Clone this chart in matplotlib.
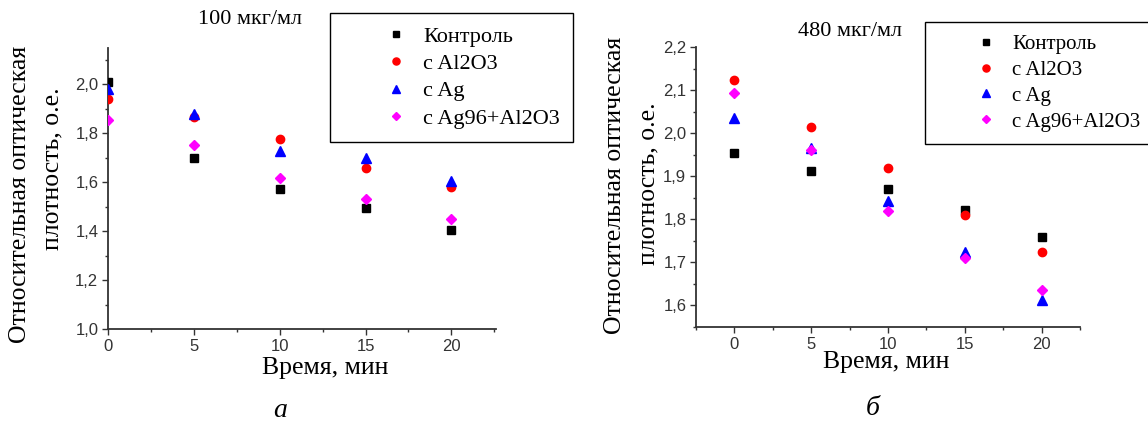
import matplotlib.pyplot as plt
from matplotlib.ticker import MultipleLocator, FuncFormatter

# time, min
time_min = [0, 5, 10, 15, 20]
series_names = ["Контроль", "с Al2O3", "с Ag", "с Ag96+Al2O3"]

# 100 мкг/мл
control_100 = [2.01, 1.70, 1.57, 1.495, 1.405]
al2o3_100 = [1.94, 1.865, 1.775, 1.658, 1.578]
ag_100 = [1.978, 1.877, 1.727, 1.70, 1.604]
ag96_100 = [1.853, 1.751, 1.616, 1.530, 1.449]

# 480 мкг/мл
control_480 = [1.953, 1.911, 1.870, 1.820, 1.758]
al2o3_480 = [2.124, 2.013, 1.919, 1.810, 1.724]
ag_480 = [2.036, 1.965, 1.841, 1.723, 1.611]
ag96_480 = [2.093, 1.961, 1.818, 1.709, 1.634]

markers = ["s", "o", "^", "D"]
colors = ["black", "red", "blue", "magenta"]
sizes = [5.5, 6, 6.5, 5.2]

serif = "Liberation Serif"
sans = "Liberation Sans"
comma = FuncFormatter(lambda v, p: f"{v:.1f}".replace(".", ","))

W, H = 1148, 423
fig = plt.figure(figsize=(W / 100, H / 100), dpi=100)


def box(x0, y0, x1, y1):
    return [x0 / W, 1 - y1 / H, (x1 - x0) / W, (y1 - y0) / H]


def ftext(x, y, s, **kw):
    fig.text(x / W, 1 - y / H, s, fontfamily=serif, ha="center", va="center", **kw)


def panel(rect, data, xlim, ylim, ymaj, ymin, clip):
    ax = fig.add_axes(box(*rect))
    for vals, name, m, c, s in zip(data, series_names, markers, colors, sizes):
        ax.plot(time_min, vals, linestyle="none", marker=m, color=c, ms=s,
                label=name, clip_on=clip, zorder=3)
    ax.set_xlim(*xlim)
    ax.set_ylim(*ylim)
    ax.xaxis.set_major_locator(MultipleLocator(5))
    ax.xaxis.set_minor_locator(MultipleLocator(2.5))
    ax.yaxis.set_major_locator(MultipleLocator(ymaj))
    ax.yaxis.set_minor_locator(MultipleLocator(ymin))
    ax.yaxis.set_major_formatter(comma)
    for side in ("top", "right"):
        ax.spines[side].set_visible(False)
    for side in ("left", "bottom"):
        ax.spines[side].set_linewidth(1.3)
        ax.spines[side].set_color("#333333")
    ax.tick_params(which="major", length=4, width=1, direction="out", labelsize=12,
                   colors="#333333", pad=3)
    ax.tick_params(which="minor", length=2.5, width=1, direction="out", colors="#333333")
    for lab in ax.get_xticklabels() + ax.get_yticklabels():
        lab.set_fontfamily(sans)
    return ax


def legend(ax, x, y, size):
    leg = fig.legend(*ax.get_legend_handles_labels(), loc="upper left",
                     bbox_to_anchor=(x / W, 1 - y / H), borderaxespad=0,
                     prop={"family": serif, "size": size}, fancybox=False,
                     edgecolor="black", framealpha=1, borderpad=0.6,
                     labelspacing=0.3, handletextpad=-1.1, handlelength=4.7,
                     markerscale=0.85)
    leg.get_frame().set_linewidth(1.0)


ax1 = panel((108, 48, 496, 329), [control_100, al2o3_100, ag_100, ag96_100],
            (0, 22.6), (1.0, 2.147), 0.2, 0.1, True)
legend(ax1, 330, 13, 16)
ftext(250, 20, "100 мкг/мл", fontsize=16)
ftext(20, 194, "Относительная оптическая", fontsize=18.5, rotation=90)
ftext(52, 169, "плотность, о.е.", fontsize=18.5, rotation=90)
ftext(325, 368, "Время, мин", fontsize=18.5)
ftext(280, 410, "а", fontsize=20, style="italic")

ax2 = panel((696, 47, 1080, 327), [control_480, al2o3_480, ag_480, ag96_480],
            (-2.5, 22.5), (1.549, 2.2), 0.1, 0.05, False)
legend(ax2, 925, 22, 15)
ftext(850, 32, "480 мкг/мл", fontsize=16)
ftext(615, 185, "Относительная оптическая", fontsize=18.5, rotation=90)
ftext(648, 184, "плотность, о.е.", fontsize=18.5, rotation=90)
ftext(886, 362, "Время, мин", fontsize=18.5)
ftext(873, 408, "б", fontsize=20, style="italic")

fig.savefig("out.png", dpi=100)
